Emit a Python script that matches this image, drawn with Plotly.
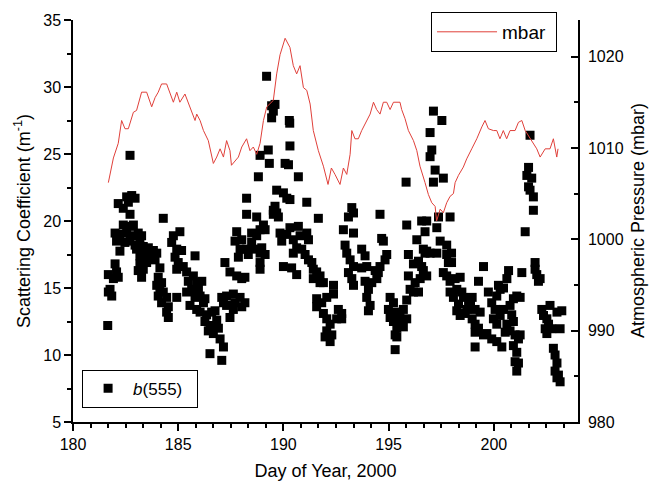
import plotly.graph_objects as go

# Atmospheric pressure (mbar) vs day of year
p_day = [181.68, 181.76, 181.92, 182.15, 182.31, 182.47, 182.63, 182.87, 183.02, 183.26, 183.50,
         183.74, 183.90, 184.05, 184.21, 184.45, 184.60, 184.77, 184.93, 185.08, 185.32, 185.48,
         185.64, 185.80, 185.88, 186.04, 186.20, 186.43, 186.67, 186.83, 186.99, 187.15, 187.30,
         187.46, 187.53, 187.86, 188.02, 188.25, 188.41, 188.57, 188.73, 188.89, 189.05, 189.21,
         189.52, 189.68, 189.84, 190.08, 190.31, 190.47, 190.63, 190.79, 190.95, 191.11, 191.27,
         191.42, 191.66, 191.90, 192.12, 192.28, 192.45, 192.69, 192.85, 193.01, 193.17, 193.25,
         193.40, 193.56, 193.72, 193.96, 194.12, 194.28, 194.43, 194.59, 194.75, 194.91, 195.07,
         195.23, 195.54, 195.62, 195.78, 195.94, 196.18, 196.34, 196.49, 196.73, 196.89, 197.05,
         197.21, 197.28, 197.45, 197.60, 197.76, 197.92, 198.08, 198.16, 198.32, 198.55, 198.71,
         198.95, 199.19, 199.43, 199.58, 199.74, 199.98, 200.14, 200.29, 200.45, 200.61, 200.77,
         201.01, 201.17, 201.33, 201.49, 201.72, 201.88, 202.04, 202.20, 202.44, 202.67, 202.83,
         202.99, 203.05]
p_mbar = [1006.2, 1007.1, 1008.9, 1010.5, 1013.0, 1012.1, 1012.1, 1013.9, 1014.1, 1016.1, 1016.1,
          1014.5, 1015.5, 1016.1, 1017.0, 1017.0, 1016.1, 1015.0, 1016.1, 1015.0, 1015.9, 1015.0,
          1013.9, 1013.0, 1013.7, 1013.0, 1011.9, 1010.8, 1008.3, 1009.0, 1009.9, 1009.0, 1010.8,
          1009.7, 1008.1, 1009.0, 1010.1, 1011.0, 1009.7, 1010.1, 1009.3, 1010.5, 1013.0, 1014.5,
          1015.2, 1018.1, 1020.2, 1022.0, 1021.0, 1019.0, 1018.1, 1019.0, 1016.6, 1016.3, 1014.8,
          1011.9, 1009.7, 1008.0, 1006.0, 1007.8, 1007.1, 1006.0, 1007.8, 1007.1, 1009.3, 1011.9,
          1011.0, 1011.0, 1011.9, 1013.0, 1013.7, 1015.0, 1014.2, 1013.7, 1015.0, 1015.0, 1014.2,
          1015.0, 1015.0, 1014.2, 1013.2, 1011.9, 1010.8, 1009.7, 1008.0, 1006.2, 1004.9, 1004.0,
          1003.6, 1002.0, 1003.3, 1002.9, 1004.0, 1004.7, 1005.0, 1006.2, 1007.0, 1007.9, 1008.8,
          1009.9, 1011.0, 1012.3, 1013.0, 1012.1, 1011.9, 1011.9, 1011.0, 1011.9, 1011.0, 1011.9,
          1011.9, 1012.8, 1013.0, 1011.9, 1011.0, 1010.5, 1009.9, 1009.0, 1009.9, 1009.9, 1011.0,
          1009.0, 1009.9]

# Scattering coefficient b(555) (m^-1) vs day of year
b_day = [182.71, 189.20, 189.44, 189.60, 189.52, 189.44, 190.28, 190.30, 188.89, 189.28, 189.33,
         190.31, 190.08, 190.24, 188.81, 190.71,
         197.13, 197.53, 196.97, 197.05, 196.97, 197.21, 197.13, 197.60, 195.83, 201.72, 201.65,
         201.57, 201.80,
         182.55, 182.79, 182.95, 182.63, 182.15, 182.39, 182.71, 184.29, 188.25, 188.25, 188.73,
         189.68, 190.00, 190.16, 190.31, 189.60, 189.68, 189.76, 191.11, 191.66, 193.25, 193.33,
         193.09,
         181.65, 181.68, 181.76, 181.84, 181.68, 181.92, 182.07, 182.15, 182.00,
         182.39, 182.71, 182.87, 182.00, 182.23, 182.55, 182.79, 183.10, 183.26, 182.07, 182.47,
         182.71, 182.95, 183.18, 183.34, 183.58, 183.82, 183.98, 182.23, 183.02, 183.18, 183.42,
         183.66, 183.90, 183.50, 183.18, 183.34, 183.10, 183.26, 184.13, 184.05, 184.21, 183.98,
         184.13, 184.29, 184.05, 184.45, 184.21, 184.53, 184.45, 184.53, 184.77, 185.08, 184.69,
         184.93, 185.16, 184.85, 185.00, 184.93, 185.24, 185.40, 185.80, 184.93, 185.48, 185.72,
         185.88, 186.12, 185.64, 185.96, 185.40, 185.80, 186.04, 186.27, 185.56, 185.88, 186.20,
         186.04, 186.35, 186.59, 186.75, 186.27, 186.51, 186.83, 186.43, 186.67, 186.91, 186.99,
         187.15, 186.51, 187.07, 187.22, 187.46, 187.78, 188.02, 188.17, 187.07, 187.30, 187.62,
         187.94, 188.17, 188.02, 187.62, 187.30, 187.15, 187.70, 187.46, 187.78, 187.70, 188.02,
         187.94, 187.86, 188.25, 188.49, 188.49, 188.73, 188.89, 189.05, 189.13, 188.33, 188.65,
         188.89, 188.97, 189.13, 188.89, 188.89, 189.52, 189.52, 189.84, 189.92, 190.16, 190.31,
         190.71, 190.47, 190.79, 191.11, 191.19, 190.00, 190.39, 190.63, 190.47, 190.63, 190.87,
         191.03, 191.19, 191.35, 191.42, 191.58, 191.74, 191.90, 191.42, 191.74, 191.58, 191.82,
         191.58, 192.06, 191.90, 192.06, 192.22, 192.06, 192.30, 192.22, 191.98, 192.38, 192.38,
         192.61, 192.77, 192.53, 192.77, 192.85, 193.33, 192.93, 193.01, 193.17, 193.33, 193.09,
         193.25, 193.33,
         194.59, 195.86, 195.94, 196.34, 196.57, 196.81, 196.73, 196.65, 196.73, 196.81, 196.97,
         197.29, 197.29, 197.37, 197.45, 197.76, 197.76, 197.99, 197.99, 197.84, 197.92, 196.18,
         196.42, 196.57, 196.65, 196.81, 196.50, 196.26, 196.02, 195.94, 196.18, 196.42, 195.07,
         195.23, 194.99, 195.31, 195.07, 195.47, 195.23, 195.54, 195.39, 195.54, 195.31, 195.39,
         195.31, 195.70, 195.86, 195.70, 195.86, 194.04, 193.96, 194.12, 194.04, 194.36, 194.44,
         194.20, 194.59, 194.51, 194.83, 194.75, 194.67, 194.91, 193.72, 193.88, 193.72, 193.88,
         193.96, 197.60, 197.76, 197.92, 198.16, 198.40, 197.92, 198.24, 198.48, 198.08, 198.56,
         198.32, 198.24, 198.40, 198.64, 198.72, 198.80, 199.27, 199.51, 198.97, 198.89, 199.11,
         199.35, 198.97, 199.11, 199.27, 199.11, 199.51, 199.67, 199.11, 199.74, 199.90, 200.14,
         200.30, 200.22, 200.06, 199.98, 200.14, 200.30, 200.46, 199.90, 200.14, 200.38, 200.54,
         200.62, 200.70, 200.62, 200.46, 200.77, 200.93, 201.09, 201.25, 200.85, 200.93, 200.77,
         201.01, 200.93, 201.17, 201.25, 201.09, 201.01, 201.09, 201.17, 201.33, 201.49, 201.65,
         201.72, 201.88, 201.88, 201.96, 201.96, 202.04, 202.20, 202.12, 202.28, 202.36, 202.52,
         202.60, 202.44, 202.52, 202.67, 202.75, 203.00, 203.23, 203.15, 202.83, 202.91, 203.00,
         202.91, 203.00, 203.15, 203.07]
b_val = [24.9, 30.8, 28.6, 28.7, 28.2, 27.7, 27.5, 27.3, 24.9, 25.3, 24.3,
         25.6, 24.3, 24.2, 23.3, 23.3,
         28.2, 27.5, 26.6, 25.3, 24.8, 23.8, 22.9, 23.2, 22.9, 26.4, 24.0,
         23.4, 23.2,
         21.8, 21.9, 21.7, 21.4, 21.3, 20.95, 20.5, 20.2, 21.7, 20.5, 20.3,
         22.3, 22.1, 21.7, 21.6, 21.1, 20.6, 20.3, 21.4, 20.2, 21.0, 20.6,
         20.3,
         12.2, 14.7, 14.9, 14.4, 16.0, 15.7, 16.2, 15.8, 16.8,
         19.7, 19.6, 19.7, 19.1, 19.0, 19.1, 18.9, 19.1, 18.9, 18.5, 18.4,
         18.5, 18.2, 18.5, 18.1, 18.0, 17.8, 17.6, 17.75, 17.9, 17.4, 17.5,
         17.3, 17.1, 16.9, 16.8, 16.4, 16.3, 15.8, 16.5, 15.8, 15.4, 15.2,
         14.9, 14.7, 14.4, 14.3, 13.9, 13.6, 13.2, 12.8, 18.9, 19.2, 18.4,
         17.9, 17.8, 17.3, 16.9, 16.4, 16.6, 16.2, 17.4, 14.3, 15.5, 15.9,
         15.4, 15.5, 14.9, 14.9, 14.7, 14.3, 14.4, 14.2, 13.7, 13.4, 13.9,
         13.2, 13.0, 13.2, 13.3, 12.5, 12.2, 12.6, 11.8, 11.6, 12.0, 11.2,
         10.6, 10.1, 9.6, 16.9, 16.2, 15.9, 15.7, 15.8, 14.3, 14.4, 14.55,
         14.3, 13.9, 13.6, 13.4, 13.7, 13.9, 13.9, 12.8, 19.2, 18.5, 18.6,
         17.9, 17.3, 17.9, 18.4, 19.1, 18.9, 19.35, 19.7, 19.35, 17.5, 17.9,
         17.6, 18.0, 17.5, 16.9, 16.4, 20.8, 20.5, 19.1, 18.5, 19.0, 19.5,
         19.6, 18.6, 18.9, 19.1, 18.6, 16.6, 16.5, 16.0, 17.6, 18.0, 17.9,
         17.5, 17.1, 16.9, 16.4, 16.2, 15.9, 15.4, 15.7, 15.4, 14.2, 13.9,
         13.6, 14.3, 13.1, 12.7, 12.3, 11.8, 11.5, 11.0, 11.35, 15.2, 14.55,
         13.4, 13.1, 12.7, 12.7, 19.35, 19.1, 18.2, 17.6, 17.1, 16.6, 16.15,
         15.7, 15.2,
         20.5, 19.7, 17.5, 18.6, 20.0, 20.0, 19.2, 17.9, 17.6, 17.75, 17.6,
         17.6, 19.5, 20.3, 18.5, 18.2, 17.5, 17.6, 16.9, 16.9, 20.3, 16.8,
         17.0, 16.6, 16.3, 15.9, 15.7, 15.4, 14.9, 15.9, 14.7, 14.7, 14.3,
         13.9, 13.4, 13.2, 12.8, 12.7, 12.5, 12.95, 12.0, 12.2, 11.5, 11.35,
         10.4, 12.1, 12.7, 13.4, 14.1, 14.9, 14.3, 13.7, 13.3, 16.3, 15.7,
         15.4, 16.6, 16.15, 17.1, 18.5, 18.7, 17.5, 17.9, 17.4, 16.5, 15.5,
         16.6, 16.15, 15.9, 15.5, 15.7, 15.8, 14.7, 14.9, 14.7, 14.3, 14.3,
         13.8, 13.3, 12.95, 13.1, 13.4, 13.8, 15.5, 16.6, 14.3, 13.8, 13.4,
         13.2, 12.7, 12.3, 12.0, 11.7, 11.5, 11.6, 10.6, 14.7, 13.9, 14.4,
         14.9, 15.2, 13.4, 12.7, 12.3, 12.95, 13.4, 11.2, 11.0, 10.6, 11.7,
         12.3, 16.3, 15.7, 15.0, 13.7, 14.2, 14.4, 14.3, 13.0, 12.5, 11.8,
         11.5, 10.7, 11.2, 11.5, 10.2, 9.5, 8.8, 9.4, 16.15, 19.2, 22.55,
         22.3, 21.8, 20.8, 16.9, 16.4, 16.0, 15.7, 15.5, 13.4, 12.95, 12.7,
         12.3, 11.96, 11.6, 13.7, 11.96, 13.2, 13.3, 11.96, 10.5, 10.0, 9.4,
         8.8, 8.3, 8.0, 8.5]

x_tickvals = [180, 185, 190, 195, 200]
y_tickvals = [5, 10, 15, 20, 25, 30, 35]
y2_tickvals = [980, 990, 1000, 1010, 1020]

FONT = "Liberation Sans, Arial, sans-serif"

fig = go.Figure()
fig.add_trace(go.Scatter(
    x=b_day, y=b_val, mode="markers", name="<i>b</i>(555)  ",
    marker=dict(symbol="square", size=9, color="black"),
    legend="legend2", yaxis="y", showlegend=True))
fig.add_trace(go.Scatter(
    x=p_day, y=p_mbar, mode="lines", name="mbar ",
    line=dict(color="#e0403a", width=1),
    legend="legend", yaxis="y2", showlegend=True))

axis_common = dict(showline=True, linecolor="black", linewidth=1.5, showgrid=False,
                   zeroline=False, tickcolor="black", tickwidth=1.5, automargin=False,
                   tickfont=dict(family=FONT, size=16, color="black"))

fig.update_layout(
    width=652, height=487,
    margin=dict(l=73, r=74, t=15, b=65),
    paper_bgcolor="white", plot_bgcolor="white",
    font=dict(family=FONT, color="black"),
    showlegend=True,
    xaxis=dict(range=[180, 204], tickvals=x_tickvals, ticks="outside", ticklen=7,
               minor=dict(dtick=5/6, tick0=180, ticks="outside", ticklen=4,
                          tickcolor="black", tickwidth=1.5),
               title=dict(text="Day of Year, 2000", font=dict(family=FONT, size=18), standoff=12),
               **axis_common),
    yaxis=dict(range=[5, 35], tickvals=y_tickvals, ticks="outside", ticklen=7,
               minor=dict(dtick=2.5, tick0=5, ticks="outside", ticklen=4,
                          tickcolor="black", tickwidth=1.5),
               **axis_common),
    yaxis2=dict(range=[980, 1024], tickvals=y2_tickvals, overlaying="y", side="right",
                ticks="inside", ticklen=7, ticklabelstandoff=5,
                minor=dict(dtick=5, tick0=980, ticks="inside", ticklen=4,
                           tickcolor="black", tickwidth=1.5),
                **axis_common),
    annotations=[
        dict(text="Scattering Coefficient (m<sup>-1</sup>)", textangle=-90,
             xref="paper", yref="paper", x=-0.101, y=0.5,
             xanchor="center", yanchor="middle", showarrow=False,
             font=dict(family=FONT, size=18, color="black")),
        dict(text="Atmospheric Pressure (mbar)", textangle=-90,
             xref="paper", yref="paper", x=1.119, y=0.5,
             xanchor="center", yanchor="middle", showarrow=False,
             font=dict(family=FONT, size=18, color="black")),
    ],
    legend=dict(x=0.709, y=1.02, xanchor="left", yanchor="top", itemwidth=60,
                bordercolor="black", borderwidth=1, bgcolor="white",
                font=dict(family=FONT, size=19)),
    legend2=dict(x=0.018, y=0.13, xanchor="left", yanchor="top", itemwidth=40,
                 bordercolor="black", borderwidth=1, bgcolor="white",
                 font=dict(family=FONT, size=17)),
)

fig.write_html("out.html")
